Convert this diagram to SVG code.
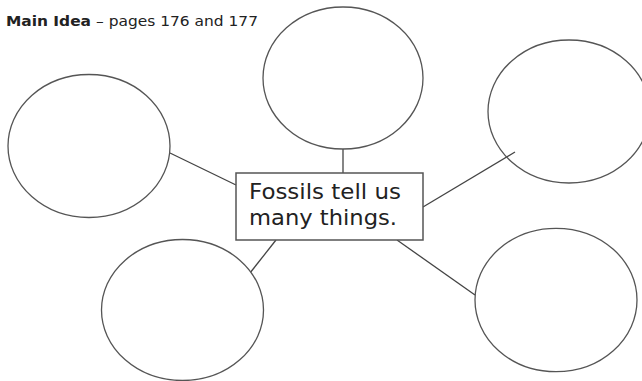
<svg xmlns="http://www.w3.org/2000/svg" width="642" height="381" viewBox="0 0 642 381">
<style>
.bubble{fill:#fff;stroke:#555;stroke-width:1.3}
.conn line{stroke:#444;stroke-width:1.3}
.box{fill:#fff;stroke:#555;stroke-width:1.5}
.t{font-family:"DejaVu Sans","Verdana",sans-serif;fill:#222}
</style>
<rect width="642" height="381" fill="#fff"/>
<text class="t" x="6" y="26" font-size="13.5" font-weight="bold" textLength="85" lengthAdjust="spacingAndGlyphs">Main Idea</text>
<text class="t" x="96" y="26" font-size="13.5" textLength="162" lengthAdjust="spacingAndGlyphs">– pages 176 and 177</text>
<g id="connectors" class="conn">
<line x1="170" y1="153" x2="236" y2="185"/>
<line x1="343" y1="149" x2="343" y2="173"/>
<line x1="423" y1="207" x2="515" y2="152"/>
<line x1="250" y1="273" x2="276" y2="240"/>
<line x1="397" y1="240" x2="475" y2="295"/>
</g>
<g id="circle-left"><ellipse class="bubble" cx="89" cy="146" rx="81" ry="71.5"/></g>
<g id="circle-top"><ellipse class="bubble" cx="343" cy="78" rx="80" ry="71"/></g>
<g id="circle-right"><ellipse class="bubble" cx="569" cy="111.5" rx="81" ry="71.5" style="fill:none"/></g>
<g id="circle-bottom-left"><ellipse class="bubble" cx="182.5" cy="310" rx="81" ry="70.5"/></g>
<g id="circle-bottom-right"><ellipse class="bubble" cx="556" cy="300" rx="81" ry="71.7"/></g>
<g id="main-idea">
<rect class="box" x="236" y="173" width="187" height="67"/>
<text class="t" x="249" y="198.5" font-size="20.5" textLength="152" lengthAdjust="spacingAndGlyphs">Fossils tell us</text>
<text class="t" x="249" y="225" font-size="20.5" textLength="148" lengthAdjust="spacingAndGlyphs">many things.</text>
</g>
</svg>
